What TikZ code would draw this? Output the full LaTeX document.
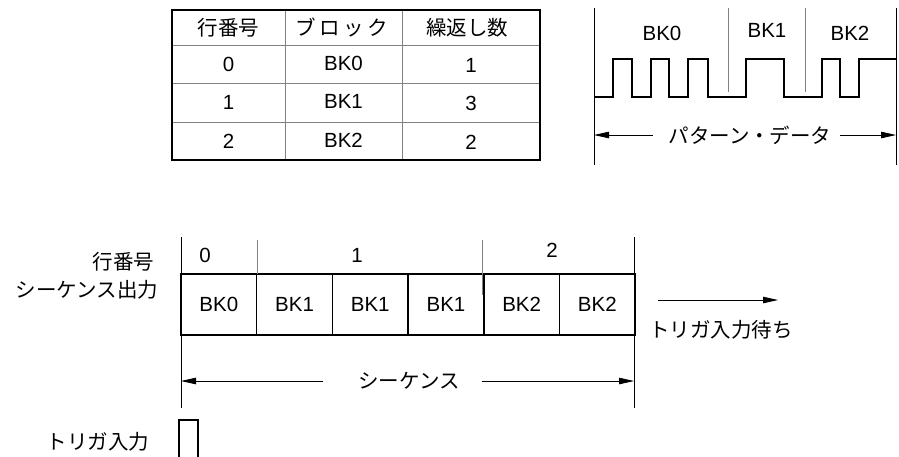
\documentclass[tikz,border=0pt]{standalone}
\usepackage{fontspec}
\setmainfont{Liberation Sans}
\newfontfamily\jp{Noto Sans CJK JP}
\usepackage{tikz}
\usetikzlibrary{arrows.meta, positioning}
\definecolor{linegray}{RGB}{130,130,130}

\begin{document}
\begin{tikzpicture}[x=1pt,y=-1pt,
    every node/.style={font=\fontsize{20.5}{22}\selectfont, inner sep=0pt, outer sep=0pt},
    txt/.style={font=\jp\fontsize{20.5}{22}\selectfont},
    blk/.style={draw, line width=1.4pt, minimum width=75.7pt, minimum height=61pt},
    arr/.style={-{Triangle[length=15pt,width=6.5pt]}, line width=0.8pt},
    ext/.style={line width=0.8pt},
    gline/.style={linegray, line width=1pt},
    wave/.style={line width=1.6pt}]
        \useasboundingbox (0,0) rectangle (899,456);
        % table
        \draw[gline] (285,10) -- (285,160) (402,10) -- (402,160)
          (172,45) -- (540,45) (172,83) -- (540,83) (172,122) -- (540,122);
        \draw[line width=1.5pt] (172,10) rectangle (540,160);
        \node[txt] (hno) at (228.5,27.5) {行番号};
        \node[txt] (hblk) at (342,27.5) {ブ\,ロ\,ッ\,ク};
        \node[txt] (hrep) at (467,27.5) {繰返し数};
        \foreach \n/\b/\c [count=\i] in {0/BK0/1, 1/BK1/3, 2/BK2/2} {
          \node (no\i) at (228.5,25.5+38.5*\i) {\n};
          \node (blk\i) at (343.5,24.5+38.5*\i) {\b};
          \node (rep\i) at (471,26.5+38.5*\i) {\c};
        }
        % pattern data
        \draw[ext] (594,8) -- (594,165) (896,8) -- (896,165);
        \draw[gline] (728,8) -- (728,92) (805,8) -- (805,92);
        \draw[wave] (594,97) -- (613,97) -- (613,59) -- (632,59) -- (632,97)
          -- (651,97) -- (651,59) -- (669,59) -- (669,97) -- (688,97)
          -- (688,59) -- (708,59) -- (708,97) -- (746,97) -- (746,59)
          -- (784,59) -- (784,97) -- (822,97) -- (822,59) -- (840,59)
          -- (840,97) -- (859,97) -- (859,59) -- (896,59);
        \node (pbk0) at (662,33) {BK0};
        \node (pbk1) at (767,30) {BK1};
        \node (pbk2) at (850,33) {BK2};
        \node[txt] (pdat) at (750,135) {パターン・データ};
        \coordinate (pl) at (594,135);
        \coordinate (pr) at (896,135);
        \draw[arr] ([xshift=-16pt]pdat.west) -- (pl);
        \draw[arr] ([xshift=9pt]pdat.east) -- (pr);
        % sequence
        \node[blk] (s1) at (218.85,304.5) {BK0};
        \foreach \t [count=\i] in {BK1,BK1,BK1,BK2,BK2} {
          \pgfmathtruncatemacro\j{\i+1}
          \node[blk, right=0pt of s\i] (s\j) {\t};
        }
        \draw[ext] (181,237) -- (181,408) (634,237) -- (634,408);
        \draw[gline] (257,240) -- (257,274) (482,240) -- (482,295);
        \node (row0) at (205,255) {0};
        \node (row1) at (357,255) {1};
        \node (row2) at (552,250) {2};
        \node[txt,anchor=east] (lrow) at (154,262) {行番号};
        \node[txt,anchor=east] (lout) at (158,290) {シーケンス出力};
        \node[txt,anchor=west] (wait) at (649,330) {トリガ入力待ち};
        \coordinate (wl) at (658,300);
        \coordinate (wr) at (778,300);
        \draw[arr] (wl) -- (wr);
        \node[txt] (seq) at (409,381) {シーケンス};
        \coordinate (ql) at (181,381);
        \coordinate (qr) at (634,381);
        \draw[arr] ([xshift=-35pt]seq.west) -- (ql);
        \draw[arr] ([xshift=22pt]seq.east) -- (qr);
        % trigger
        \node[txt,anchor=east] (trig) at (149,442) {トリガ入力};
        \draw[wave, line width=1.4pt] (179,458) -- (179,420) -- (198,420) -- (198,458);
\end{tikzpicture}
\end{document}
